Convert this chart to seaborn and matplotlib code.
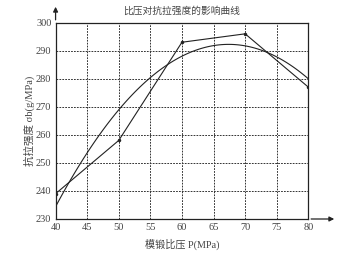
import matplotlib
matplotlib.use("Agg")
import matplotlib.pyplot as plt
import seaborn as sns
import pandas as pd

pressure = [40, 50, 60, 70, 80]
strength = [239, 258, 293, 296, 277]
x_ticks = [40, 45, 50, 55, 60, 65, 70, 75, 80]
y_ticks = [230, 240, 250, 260, 270, 280, 290, 300]
title = "比压对抗拉强度的影响曲线"
xlabel = "模锻比压 P(MPa)"
ylabel = "抗拉强度 σb(g/MPa)"

df = pd.DataFrame({"P": pressure, "sigma": strength})

sns.set_style("white")
fam = ["Liberation Serif", "Noto Sans CJK SC"]
plt.rcParams["font.family"] = fam

fig = plt.figure(figsize=(3.54, 2.54), dpi=100)
ax = fig.add_axes([0.157, 0.138, 0.714, 0.773])

sns.regplot(data=df, x="P", y="sigma", order=2, ci=None, scatter=False,
            line_kws=dict(color="#222222", lw=0.8), ax=ax)
sns.lineplot(data=df, x="P", y="sigma", color="#222222", lw=0.8,
             marker="o", markersize=2.5, markeredgewidth=0, ax=ax)

ax.set_xlim(40, 80)
ax.set_ylim(230, 300)
ax.set_xticks(x_ticks)
ax.set_yticks(y_ticks)
ax.tick_params(axis="both", direction="in", length=2, width=0.6,
               labelsize=7.5, pad=3, colors="#222222", labelcolor="#444444")
ax.grid(True, color="#333333", ls=(0, (1.8, 1.2)), lw=0.7)
for s in ax.spines.values():
    s.set_color("#222222")
    s.set_linewidth(0.9)

ax.set_title(title, fontsize=7, family=["Noto Sans CJK SC"], color="#444444", pad=6)
ax.set_xlabel(xlabel, fontsize=7.3, color="#444444", labelpad=5)
ax.set_ylabel(ylabel, fontsize=7.6, color="#444444", labelpad=1)

# axis arrows
ax.annotate("", xy=(337 / 354, 1 - 219 / 254), xytext=(0.871, 1 - 219 / 254),
            xycoords="figure fraction", textcoords="figure fraction",
            arrowprops=dict(arrowstyle="-|>", color="#222222", lw=0.9, mutation_scale=7))
ax.annotate("", xy=(0.157, 1 - 4 / 254), xytext=(0.157, 0.911),
            xycoords="figure fraction", textcoords="figure fraction",
            arrowprops=dict(arrowstyle="-|>", color="#222222", lw=0.9, mutation_scale=7))

fig.savefig("out.png", dpi=100)
